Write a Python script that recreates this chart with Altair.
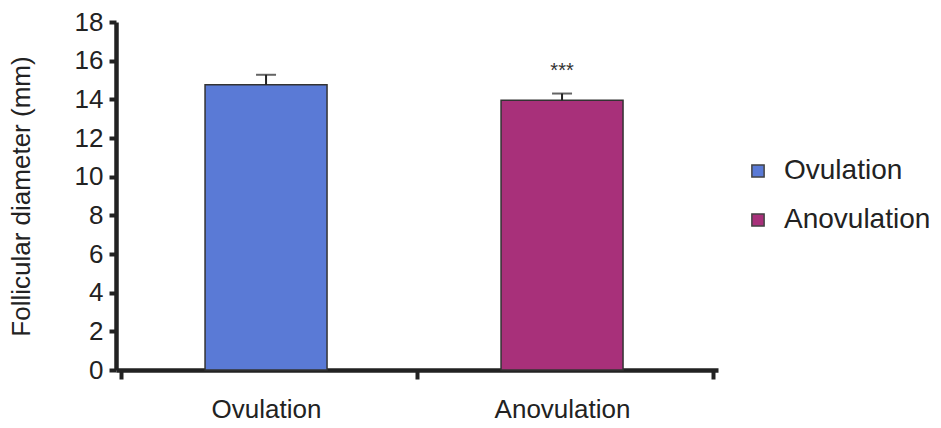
import altair as alt
import pandas as pd

categories = ["Ovulation", "Anovulation"]
positions = [0.49, 1.49]
means = [14.75, 13.95]
errors = [0.52, 0.35]
stars = ["", "***"]
colors = ["#5A7AD6", "#A8307A"]

df = pd.DataFrame({
    "group": categories,
    "pos": positions,
    "mean": means,
    "top": [m + e for m, e in zip(means, errors)],
    "star": stars,
})

FONT = "Liberation Sans"

x_axis = alt.Axis(
    values=[0, 0.49, 1, 1.49, 2],
    labelExpr="datum.value == 0.49 ? 'Ovulation' : (datum.value == 1.49 ? 'Anovulation' : '')",
    tickOpacity={"condition": {"test": "datum.value % 1 == 0", "value": 1}, "value": 0},
    title=None,
    grid=False,
    domainColor="#222222",
    domainWidth=4.5,
    tickColor="#222222",
    tickWidth=4,
    tickSize=9,
    labelFontSize=26,
    labelFont=FONT,
    labelColor="#222222",
    labelPadding=17,
    labelFlush=False,
    labelOverlap=False,
)
x_scale = alt.Scale(domain=[0, 2], nice=False, zero=False)

y_axis = alt.Axis(
    values=list(range(0, 19, 2)),
    title="Follicular diameter (mm)",
    titleFont=FONT,
    titleFontSize=26,
    titleFontWeight="normal",
    titleColor="#222222",
    titlePadding=40,
    grid=False,
    domainColor="#222222",
    domainWidth=4.5,
    tickColor="#222222",
    tickWidth=4,
    tickSize=7,
    labelFontSize=26,
    labelFont=FONT,
    labelColor="#222222",
    labelPadding=6,
    labelOverlap=False,
    labelFlush=False,
)
y_scale = alt.Scale(domain=[0, 18], nice=False)

X = alt.X("pos:Q", scale=x_scale, axis=x_axis)

bars = alt.Chart(df).mark_bar(size=122, stroke="#333333", strokeWidth=1.5).encode(
    x=X,
    y=alt.Y("mean:Q", scale=y_scale, axis=y_axis),
    color=alt.Color(
        "group:N",
        scale=alt.Scale(domain=categories, range=colors),
        legend=alt.Legend(
            title=None,
            orient="none",
            legendX=628,
            legendY=135,
            symbolType="square",
            symbolSize=150,
            symbolStrokeColor="#444444",
            symbolStrokeWidth=1.5,
            labelFont=FONT,
            labelFontSize=28,
            labelColor="#222222",
            rowPadding=21,
            labelOffset=12,
            labelLimit=300,
        ),
    ),
)

err = alt.Chart(df).mark_rule(color="#222222", strokeWidth=2).encode(
    x=X,
    y=alt.Y("mean:Q", scale=y_scale, axis=y_axis),
    y2="top:Q",
)

cap = alt.Chart(df).mark_tick(color="#222222", thickness=2, size=20, orient="horizontal").encode(
    x=X,
    y=alt.Y("top:Q", scale=y_scale, axis=y_axis),
)

star_text = alt.Chart(df).mark_text(font=FONT, fontSize=20, color="#333333", dy=-23).encode(
    x=X,
    y=alt.Y("top:Q", scale=y_scale, axis=y_axis),
    text="star:N",
)

chart = alt.layer(bars, err, cap, star_text).properties(
    width=602,
    height=348,
    background="white",
    autosize=alt.AutoSizeParams(type="none"),
    padding={"left": 116, "top": 22, "right": 223, "bottom": 58},
).configure_view(strokeWidth=0, stroke="transparent")

chart.save("out.html", embed_options={"renderer": "svg", "actions": False})
